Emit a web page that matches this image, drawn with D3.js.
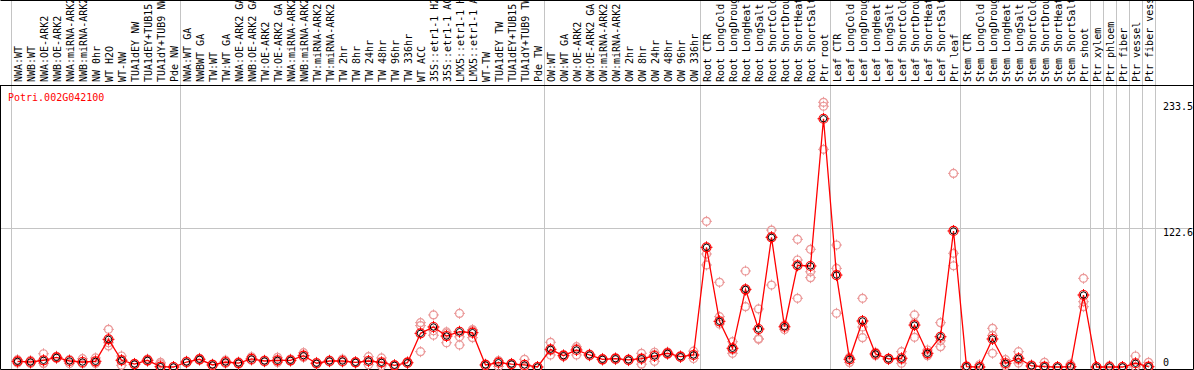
<!DOCTYPE html>
<html>
<head>
<meta charset="utf-8">
<script src="https://cdn.jsdelivr.net/npm/d3@7"></script>
<style>
  body { margin: 0; background: #fff; }
  svg { display: block; }
</style>
</head>
<body>
<svg id="chart"></svg>
<script>
const geneName = "Potri.002G042100";

const samples = [
  "NWA:WT", "NWB:WT", "NWA:OE-ARK2", "NWB:OE-ARK2", "NWA:miRNA-ARK2", "NWB:miRNA-ARK2", "NW 0hr", "WT H2O", "WT-NW",
  "TUA1dEY NW", "TUA1dEY+TUB15 NW", "TUA1dY+TUB9 NW", "Pde NW",
  "NWA:WT GA", "NWBWT GA", "TW:WT", "TW:WT GA", "NWA:OE-ARK2 GA", "NWB:OE-ARK2 GA", "TW:OE-ARK2", "TW:OE-ARK2 GA",
  "NWA:miRNA-ARK2", "NWB:miRNA-ARK2", "TW:miRNA-ARK2", "TW:miRNA-ARK2", "TW 2hr", "TW 8hr", "TW 24hr", "TW 48hr",
  "TW 96hr", "TW 336hr", "WT ACC", "35S::etr1-1 H2O", "35S::etr1-1 ACC", "LMX5::etr1-1 H2O", "LMX5::etr1-1 ACC",
  "WT-TW", "TUA1dEY TW", "TUA1dEY+TUB15 TW", "TUA1dY+TUB9 TW", "Pde TW",
  "OW:WT", "OW:WT GA", "OW:OE-ARK2", "OW:OE-ARK2 GA", "OW:miRNA-ARK2", "OW:miRNA-ARK2", "OW 2hr", "OW 8hr",
  "OW 24hr", "OW 48hr", "OW 96hr", "OW 336hr",
  "Root CTR", "Root LongCold", "Root LongDrought", "Root LongHeat", "Root LongSalt", "Root ShortCold",
  "Root ShortDrought", "Root ShortHeat", "Root ShortSalt", "Ptr root",
  "Leaf CTR", "Leaf LongCold", "Leaf LongDrought", "Leaf LongHeat", "Leaf LongSalt", "Leaf ShortCold",
  "Leaf ShortDrought", "Leaf ShortHeat", "Leaf ShortSalt", "Ptr leaf",
  "Stem CTR", "Stem LongCold", "Stem LongDrought", "Stem LongHeat", "Stem LongSalt", "Stem ShortCold",
  "Stem ShortDrought", "Stem ShortHeat", "Stem ShortSalt", "Ptr shoot",
  "Ptr xylem", "Ptr phloem", "Ptr fiber", "Ptr vessel", "Ptr fiber vessel"
];

// index where each sample group starts (plus the end)
const groupStarts = [0, 13, 41, 53, 63, 73, 83, 84, 85, 86, 87, 88];

const means = [
  5.0, 4.4, 5.9, 8.5, 5.3, 4.4, 5.0, 24.4, 5.9, 2.6, 5.9, 0.3, 0,
  4.4, 6.8, 1.8, 4.4, 3.5, 7.1, 5.3, 5.9, 5.9, 10.0, 3.3, 5.3, 5.3, 4.1, 5.3, 4.1,
  1.5, 3.8, 29.7, 35.3, 27.3, 31.1, 30.3, 1.8, 3.8, 2.6, 1.8, 0,
  15.6, 10.0, 15.0, 10.6, 6.8, 7.3, 6.2, 7.3, 9.7, 12.1, 9.1, 10.6,
  105.6, 40.3, 16.5, 68.5, 33.5, 114.4, 35.5, 89.7, 89.1, 219,
  81.1, 6.8, 40.6, 11.5, 7.1, 7.7, 37.0, 12.1, 26.7, 120,
  0.3, 0, 24.7, 3.3, 7.7, 0.9, 0.3, 0, 0.3, 63.5,
  0, 0, 0, 3.3, 0.3
];

const replicates = [
  [3.5, 5.0, 6.5], [3.0, 4.4, 5.8], [11.7, 3.3, 3.0], [9.5, 7.5, 8.5], [6.5, 3.0, 6.4], [7.3, 3.0, 3.0],
  [8.0, 3.0, 4.0], [33.2, 21.4, 18.6], [9.7, 1.5, 6.5], [2.6, 2.0, 3.2], [7.0, 5.0, 5.7], [4.1, 2.8, 0],
  [0, 0, 0],
  [4.4, 3.5, 5.3], [6.8, 5.9, 7.7], [1.8, 1.0, 2.6], [6.0, 3.0, 4.2], [3.5, 2.5, 4.5], [9.0, 6.0, 6.3],
  [5.3, 4.5, 6.1], [8.5, 4.0, 5.2], [7.0, 5.0, 5.7], [12.6, 9.0, 8.4], [3.3, 2.5, 4.1], [5.3, 4.5, 6.1],
  [7.0, 4.5, 4.4], [4.1, 3.5, 4.7], [9.1, 2.0, 4.8], [8.0, 1.0, 3.3], [1.5, 1.0, 2.0], [3.8, 3.0, 4.6],
  [39.1, 13.5, 36.5], [45.9, 28.0, 32.0], [30.9, 21.4, 29.6], [47.3, 19.4, 26.6], [25.9, 32.0, 33.0],
  [1.8, 1.0, 2.6], [5.5, 0.5, 5.4], [2.6, 2.0, 3.2], [6.8, 0, 0.5], [0, 0, 0],
  [21.8, 10.6, 14.4], [10.0, 9.0, 11.0], [17.9, 10.6, 16.5], [10.6, 9.8, 11.4], [6.8, 6.0, 7.6],
  [7.3, 6.5, 8.1], [6.2, 5.5, 6.9], [12.1, 2.5, 7.3], [13.0, 5.0, 11.1], [12.1, 11.0, 13.2],
  [9.1, 8.3, 9.9], [14.0, 7.5, 10.3],
  [128.5, 99.7, 90.0], [74.7, 44.4, 37.9], [22.3, 12.1, 15.1], [84.7, 53.2, 67.6], [51.2, 24.4, 25.0],
  [120.8, 72.3, 115.0], [36.5, 33.0, 37.0], [112.6, 94.4, 60.6], [103.8, 84.0, 78.8], [233.5, 230.0, 192.0],
  [107.6, 87.0, 47.4], [8.5, 4.0, 7.9], [60.6, 25.9, 35.3], [13.0, 11.5, 10.0], [7.1, 6.5, 7.7],
  [13.5, 3.3, 6.3], [45.9, 26.2, 38.9], [15.0, 10.0, 11.3], [39.1, 17.9, 23.1], [170.8, 100.3, 89.3],
  [0.3, 0, 0.6], [2.0, 0, 0], [34.1, 12.1, 27.9], [6.5, 1.0, 2.4], [13.5, 3.5, 6.1], [2.0, 0.5, 0.2],
  [4.1, 0, 0], [0, 0, 0], [2.5, 0, 0], [78.2, 57.6, 53.2],
  [0, 0, 0], [1.2, 0, 0], [0, 0, 0], [9.7, 0.3, 0], [4.1, 0, 0]
];

const yTicks = [0, 122.6, 233.5];
const yTickDy = [-5, 4, 4];

const width = 1194;
const height = 370;

const svg = d3.select("#chart")
  .attr("width", width)
  .attr("height", height)
  .style("font-family", "'DejaVu Sans Mono', monospace")
  .style("font-size", "10px");

const headerBottom = 85;
const plotRight = 1155;

const x = d3.scaleBand()
  .domain(d3.range(samples.length))
  .range([11, plotRight])
  .padding(0);
const cx = i => x(i) + x.bandwidth() / 2;

const y = d3.scaleLinear()
  .domain([0, 233.5])
  .range([367, 102.3]);

// horizontal grid line
svg.append("g")
  .selectAll("line")
  .data(yTicks.filter(d => d > 0 && d < 233.5))
  .join("line")
  .attr("x1", 0).attr("x2", width)
  .attr("y1", d => Math.round(y(d)) + 0.5)
  .attr("y2", d => Math.round(y(d)) + 0.5)
  .attr("stroke", "#c4c4c4")
  .attr("stroke-width", 1);

// group separators
svg.append("g")
  .selectAll("line")
  .data(groupStarts)
  .join("line")
  .attr("x1", d => (d < samples.length ? x(d) : plotRight) + 0.5)
  .attr("x2", d => (d < samples.length ? x(d) : plotRight) + 0.5)
  .attr("y1", 0).attr("y2", height)
  .attr("stroke", "#c4c4c4")
  .attr("stroke-width", 1);

// column labels
svg.append("g")
  .selectAll("text")
  .data(samples)
  .join("text")
  .attr("transform", (d, i) => `translate(${cx(i) + 4},82) rotate(-90)`)
  .attr("fill", "#000")
  .text(d => d);

// header separator and frame
svg.append("line")
  .attr("x1", 0).attr("x2", width)
  .attr("y1", headerBottom + 0.5).attr("y2", headerBottom + 0.5)
  .attr("stroke", "#000");
svg.append("path")
  .attr("d", `M0.5,${headerBottom} V${height - 0.5} H${width - 0.5} V0.5 H0.5`)
  .attr("fill", "none")
  .attr("stroke", "#000");

// y axis on the right
const yAxis = svg.append("g")
  .attr("transform", `translate(${plotRight + 8},0)`)
  .call(d3.axisRight(y).tickValues(yTicks).tickSize(0).tickFormat(d => d === 0 ? "0" : d3.format(".1f")(d)));
yAxis.select(".domain").remove();
yAxis.selectAll("text")
  .attr("x", 0)
  .attr("dy", (d, i) => yTickDy[i] + 3.5)
  .style("font-family", "'DejaVu Sans Mono', monospace")
  .style("font-size", "10px")
  .attr("fill", "#000");

// gene title
svg.append("text")
  .attr("x", 8)
  .attr("y", 101)
  .attr("fill", "#ff0000")
  .text(geneName);

// marker with little ticks
function marker(g, color, r) {
  g.append("circle").attr("r", r).attr("fill", "none").attr("stroke", color).attr("stroke-width", 1.2);
  g.append("path")
    .attr("d", `M0,${-r - 1.5}V${-r + 1}M0,${r - 1}V${r + 1.5}M${-r - 1.5},0H${-r + 1}M${r - 1},0H${r + 1.5}`)
    .attr("stroke", color)
    .attr("stroke-width", 1);
}

// replicates
const repPts = [];
replicates.forEach((reps, i) => reps.forEach(v => repPts.push({ i, v })));
svg.append("g")
  .selectAll("g")
  .data(repPts)
  .join("g")
  .attr("transform", d => `translate(${cx(d.i)},${y(d.v)})`)
  .each(function () { marker(d3.select(this), "#eb9a9a", 4); });

// mean line
const line = d3.line()
  .x((d, i) => cx(i))
  .y(d => y(d));
svg.append("path")
  .datum(means)
  .attr("d", line)
  .attr("fill", "none")
  .attr("stroke", "#ff0000")
  .attr("stroke-width", 1.3);

// mean markers
const mg = svg.append("g")
  .selectAll("g")
  .data(means)
  .join("g")
  .attr("transform", (d, i) => `translate(${cx(i)},${y(d)})`);
mg.each(function () { marker(d3.select(this), "#ff0000", 4.5); });
mg.append("circle")
  .attr("r", 3.2)
  .attr("fill", "none")
  .attr("stroke", "#000")
  .attr("stroke-width", 1);
</script>
</body>
</html>
